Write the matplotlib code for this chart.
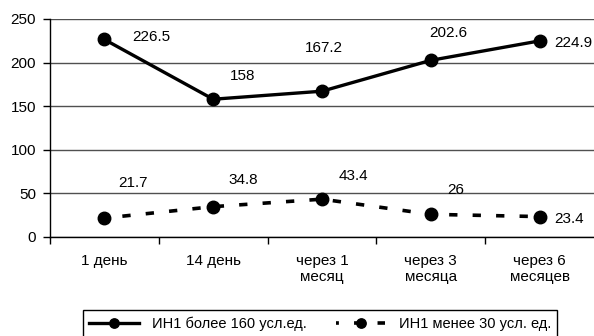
import matplotlib
matplotlib.use('Agg')
import matplotlib.pyplot as plt

plt.rcParams['font.family'] = ['Liberation Sans', 'DejaVu Sans']
plt.rcParams['font.size'] = 11

categories = ['1 день', '14 день', 'через 1\nмесяц', 'через 3\nмесяца', 'через 6\nмесяцев']
high_values = [226.5, 158, 167.2, 202.6, 224.9]
low_values = [21.7, 34.8, 43.4, 26, 23.4]
high_label = 'ИН1 более 160 усл.ед.'
low_label = 'ИН1 менее 30 усл. ед.'

# label offsets in pixels (right, up)
high_offsets = [(47, 2), (29, 23), (2, 43), (18, 27), (34, -2)]
low_offsets = [(29, 35), (30, 27), (31, 23), (25, 24), (29, -2)]


def main():
    fig = plt.figure(figsize=(5.94, 3.36), dpi=100)
    ax = fig.add_axes([50 / 594, 1 - 237 / 336, 1 - 50 / 594, 218 / 336])

    x = list(range(len(categories)))
    ax.set_xlim(-0.5, 4.5)
    ax.set_ylim(0, 250)
    ax.set_yticks([0, 50, 100, 150, 200, 250])
    ax.yaxis.grid(True, color='#505050', linewidth=1)
    ax.set_axisbelow(True)

    ax.set_xticks(x)
    ax.set_xticklabels(categories, multialignment='center')
    ax.tick_params(axis='x', which='major', length=0, pad=12)
    ax.set_xticks([-0.5, 0.5, 1.5, 2.5, 3.5], minor=True)
    ax.tick_params(axis='x', which='minor', length=5, width=1, color='black')
    ax.tick_params(axis='y', length=5, width=1, pad=5)

    for side in ['top', 'right']:
        ax.spines[side].set_visible(False)
    ax.spines['left'].set_linewidth(1)
    ax.spines['bottom'].set_linewidth(1)

    ax.plot(x, high_values, color='black', linewidth=2.4, marker='o', markersize=9,
            label=high_label, zorder=3)
    ax.plot(x, low_values, color='black', linewidth=2.6, linestyle=(1.5, (2.3, 4.2)),
            marker='o', markersize=9, label=low_label, zorder=3)

    for xi, v, (dx, dy) in zip(x, high_values, high_offsets):
        ax.annotate(f'{v:g}', (xi, v), xytext=(dx * 0.72, dy * 0.72),
                    textcoords='offset points', ha='center', va='center')
    for xi, v, (dx, dy) in zip(x, low_values, low_offsets):
        ax.annotate(f'{v:g}', (xi, v), xytext=(dx * 0.72, dy * 0.72),
                    textcoords='offset points', ha='center', va='center')

    fig.legend(loc='upper center', bbox_to_anchor=(320 / 594, 1 - 310 / 336), ncol=2,
               frameon=True, fancybox=False, edgecolor='black', framealpha=1,
               fontsize=10.5, markerscale=0.75,
               handlelength=3.4, handletextpad=0.9, columnspacing=2.0,
               borderpad=0.45, borderaxespad=0)

    fig.savefig('out.png', dpi=100)


if __name__ == '__main__':
    main()
